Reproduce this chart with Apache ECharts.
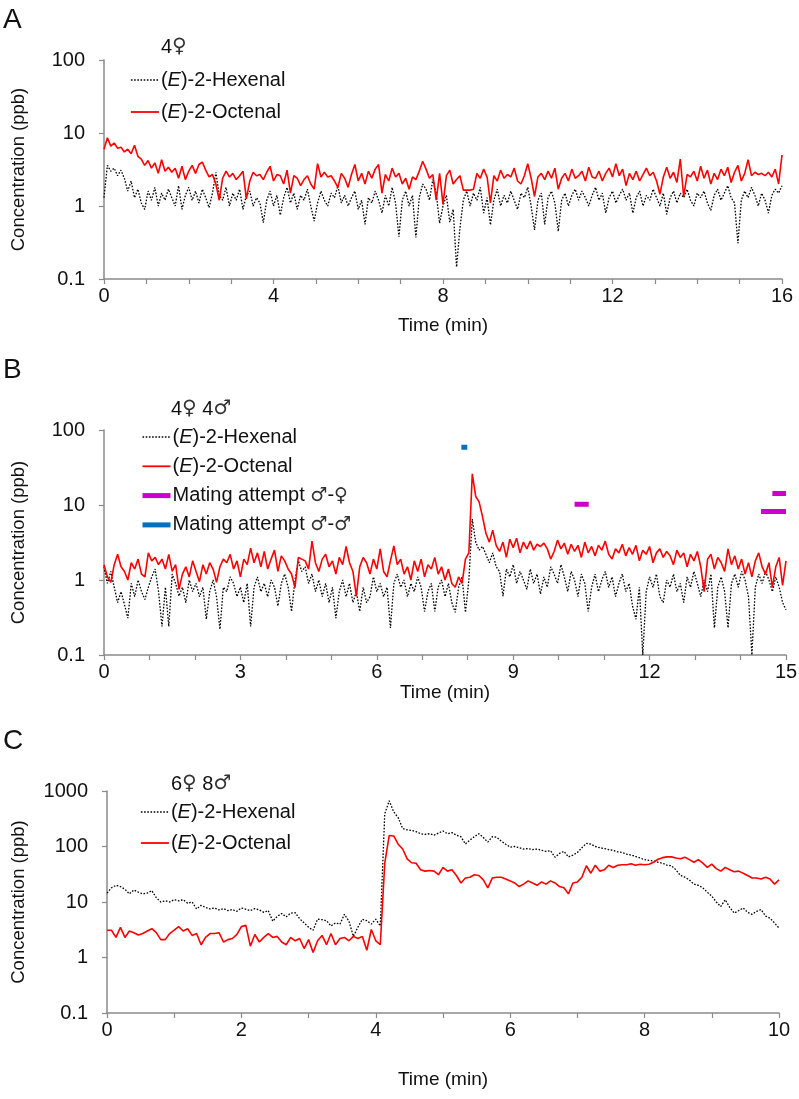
<!DOCTYPE html>
<html><head><meta charset="utf-8">
<script src="https://cdn.jsdelivr.net/npm/echarts@6/dist/echarts.min.js"></script>
<style>html,body{margin:0;padding:0;background:#fff}#c{width:799px;height:1099px}</style>
</head><body><div id="c"></div><script>
const FONT = '"Liberation Sans", Arial, sans-serif';
const FONT_N = '"Liberation Sans Narrow", "Liberation Sans", Arial, sans-serif';
const SYM_FONT = '"DejaVu Sans", sans-serif';

// ---------- Panel A (4 females), sampled every 0.08 min ----------
const stepA = 0.08;
const hexA = [
1.3,3.6,3.0,3.3,2.6,3.1,2.4,1.6,2.2,1.3,
1.7,1.1,0.9,1.6,1.2,1.8,1.0,1.5,1.2,1.7,
1.3,1.0,1.9,0.9,1.4,1.8,1.2,1.6,1.1,1.7,
1.3,0.95,1.5,2.9,1.4,1.2,1.8,1.0,1.5,1.2,
1.7,0.9,1.4,1.6,1.0,1.3,1.1,0.59,1.2,1.6,
1.0,1.4,0.75,1.3,1.8,1.1,1.5,0.9,1.4,1.2,
1.7,1.0,0.62,1.1,1.6,1.2,1.0,1.5,1.3,1.9,
1.1,1.4,1.0,1.3,1.6,0.9,1.2,0.56,1.3,1.1,
1.6,1.2,0.8,1.4,1.0,1.8,1.1,0.38,1.2,1.6,
1.0,1.4,0.37,1.3,2.0,1.7,1.2,2.3,1.5,0.58,
1.0,1.4,0.6,0.9,0.146,0.5,1.2,1.6,1.0,1.5,
1.2,1.8,0.8,1.3,0.55,1.2,1.7,1.0,1.4,1.1,
1.6,1.2,0.9,1.5,1.3,1.8,1.0,0.47,1.2,1.5,
0.56,1.3,1.6,1.1,0.45,1.2,1.5,1.0,1.4,1.7,
1.2,1.6,1.3,1.0,1.4,1.8,1.2,1.5,0.8,1.3,
1.6,1.1,1.4,1.7,1.2,1.5,0.8,1.3,1.6,1.0,
1.4,1.2,1.7,1.3,1.0,1.5,0.77,1.3,1.6,1.1,
1.5,1.3,1.7,1.2,1.0,1.5,1.3,1.6,1.1,0.87,
1.4,1.7,1.2,1.5,1.9,1.3,1.1,0.31,1.2,1.6,
1.3,1.8,1.4,1.0,1.5,1.2,0.8,1.4,1.7,1.5,
1.9];
const octA = [
6.0,8.6,6.6,7.3,6.2,6.4,5.5,6.0,5.2,6.8,
4.8,4.4,3.6,4.2,3.3,3.9,2.8,4.3,3.0,3.4,
2.9,3.3,2.4,3.5,2.3,3.0,3.6,2.8,3.7,4.0,
3.1,2.5,2.7,2.0,1.2,2.4,3.0,2.5,2.8,2.3,
2.6,3.0,1.25,2.2,2.9,2.6,2.7,2.3,2.9,3.5,
2.2,2.7,2.6,2.0,3.1,1.5,2.6,2.4,1.9,2.3,
2.6,2.0,1.7,3.8,2.5,2.9,2.5,2.6,2.2,1.8,
2.8,2.4,1.8,2.7,3.7,2.2,2.8,2.0,3.0,2.4,
3.2,3.7,1.5,2.7,2.2,3.3,2.5,2.8,2.0,2.4,
1.7,2.5,2.3,3.0,4.1,3.2,2.4,2.7,1.2,2.8,
1.05,2.6,3.1,2.0,2.3,2.6,1.65,1.65,1.65,1.7,
2.8,2.4,3.2,2.5,1.1,2.6,2.2,3.1,2.4,2.7,
2.5,3.3,2.2,2.0,2.6,3.8,2.4,1.35,2.5,2.8,
2.3,3.0,2.4,3.3,1.7,2.4,2.8,2.2,3.2,2.4,
2.6,3.0,2.2,3.4,2.5,2.4,3.0,2.2,2.8,3.3,
2.5,3.8,2.6,3.2,1.9,2.8,2.3,3.0,2.2,2.7,
3.3,2.6,2.9,2.2,1.45,2.5,3.4,2.4,2.9,2.1,
4.4,1.35,2.7,2.5,3.0,2.2,3.5,2.4,3.1,2.0,
2.8,2.3,3.2,2.6,3.4,2.1,2.9,3.6,2.2,2.8,
4.3,2.6,2.9,2.7,2.8,2.6,2.9,2.5,3.2,2.0,
5.0];

// ---------- Panel B (4 females, 4 males), sampled every 0.075 min ----------
const stepB = 0.075;
const hexB = [
1.5,0.9,1.3,0.8,0.5,0.7,0.47,0.31,0.9,0.6,
1.0,0.7,0.55,0.8,1.1,1.4,0.7,0.24,0.8,0.24,
1.2,0.9,0.61,0.8,0.5,1.0,0.7,0.9,0.6,0.8,
0.3,0.7,1.0,0.6,0.22,0.8,0.7,1.1,0.9,0.6,
0.8,0.5,0.9,0.24,0.8,1.1,0.7,0.9,0.6,1.0,
0.8,0.45,0.9,1.2,0.8,0.38,1.0,1.8,1.3,1.5,
0.9,1.2,0.7,1.0,0.6,0.9,0.5,0.8,0.31,0.7,
1.0,0.6,0.9,0.5,0.7,0.38,0.8,0.5,0.6,1.1,
0.7,0.9,0.6,0.8,0.23,0.9,1.2,0.8,1.0,0.6,
0.9,0.7,1.1,0.8,0.38,0.7,0.9,0.38,0.8,1.0,
0.6,0.9,0.5,0.37,0.8,1.1,0.37,1.0,6.5,3.2,
2.5,2.8,2.2,1.7,2.3,1.5,1.3,0.61,1.4,1.1,
1.6,0.9,1.3,1.0,0.75,1.4,0.9,1.2,0.65,1.1,
0.8,1.5,1.2,0.9,1.6,1.1,0.7,1.3,1.0,0.6,
1.2,0.9,0.38,0.8,1.2,0.7,1.0,1.3,0.8,1.1,
0.6,0.9,1.2,0.7,0.9,0.45,0.30,0.8,0.1,0.7,
1.1,0.8,1.2,0.6,0.5,1.0,0.8,1.2,0.7,0.9,
0.5,1.1,0.8,1.3,0.9,0.6,1.0,0.7,1.2,0.23,
0.8,1.1,0.7,0.23,0.9,1.2,0.8,1.3,1.0,0.6,
0.1,0.8,1.2,0.9,1.3,1.0,0.7,1.1,0.8,0.5,
0.4];
const octB = [
1.6,1.1,0.93,1.6,2.2,1.5,1.3,1.0,1.7,1.4,
1.9,1.2,1.1,2.3,1.8,2.0,1.6,1.9,1.4,2.2,
1.3,1.6,0.75,1.2,1.5,1.1,1.8,1.3,0.95,1.6,
1.2,1.7,1.4,0.93,1.5,1.9,1.7,2.2,1.4,1.8,
1.1,1.9,1.6,2.65,1.7,2.3,1.5,2.4,1.4,1.9,
2.5,1.3,2.1,1.8,1.4,1.2,0.79,2.0,1.9,1.8,
1.4,3.3,1.7,1.3,1.9,2.2,1.5,1.8,1.2,2.0,
1.6,2.8,1.7,1.3,0.61,1.5,2.0,1.7,1.2,1.9,
1.4,2.6,1.3,1.1,1.8,2.85,1.6,1.9,1.2,1.5,
1.0,1.8,1.3,1.9,1.1,1.6,1.4,2.0,1.2,1.5,
1.0,1.4,0.9,0.8,1.1,0.9,1.9,2.3,26,13,
11,7,4.2,3.2,4.6,2.9,2.4,3.2,2.0,3.5,
2.7,3.6,2.3,3.2,2.6,3.3,2.5,3.0,2.8,3.1,
2.6,1.9,2.4,3.4,2.6,3.1,2.2,3.0,2.4,2.9,
2.0,3.2,2.3,2.8,2.1,2.9,2.5,3.3,2.2,1.9,
2.6,2.3,3.0,2.1,2.7,2.2,2.9,1.8,2.5,2.2,
2.8,1.7,2.3,2.6,2.0,2.4,2.1,1.6,2.5,2.0,
2.3,1.5,2.2,1.8,2.4,1.5,0.7,1.9,2.2,1.4,
2.0,1.7,1.3,2.6,1.6,2.1,1.4,1.9,1.2,1.7,
1.1,1.8,2.3,1.5,1.2,1.7,0.8,1.5,2.0,0.85,
1.8];
// mating attempts: [start min, end min, level ppb]
const mateFemale = [[10.35,10.66,10.2],[14.70,15.0,14.2],[14.45,15.0,8.2]];
const mateMale = [[7.86,7.99,59]];

// ---------- Panel C (6 females, 8 males), sampled every 4 s ----------
const stepC = 1/15;
const hexC = [
14.5,18,20,19,17,14,16.5,15,14,14.5,
16,12,10,10.5,10,11,10.5,11,9.5,10,
7.5,8.7,8,7.5,7.8,7.2,7.6,7.0,7.3,6.8,
7.8,7.4,7.0,7.6,7.2,6.5,7.0,4.5,5.5,6.2,
5.4,6.3,6.4,5.0,4.2,3.5,3.1,4.9,4.8,4.6,
3.7,4.2,4.0,6.0,4.5,2.4,3.5,4.9,4.6,4.0,
4.9,3.7,390,665,420,330,210,200,195,185,
170,165,170,160,175,190,170,178,160,150,
111,130,150,170,145,120,150,147,125,110,
97,100,95,90,92,88,90,85,82,84,
64,75,82,65,70,78,95,114,110,100,
95,92,88,85,80,78,73,70,66,62,
58,56,55,52,50,46,45,38,30,28,
25,21,20,18,15,12.7,10,8.3,11,8,
6.3,7,7.8,6.5,6.0,6.8,7.3,5.6,5.1,4.2,
3.4];
const octC = [
3.1,3.1,2.3,3.5,2.3,3.0,2.8,2.55,2.7,3.0,
3.3,2.8,2.1,2.1,2.7,3.1,3.6,3.0,3.3,2.5,
2.7,1.7,2.3,2.7,2.7,2.8,1.9,2.1,2.2,2.6,
3.6,3.8,1.6,2.6,1.9,2.3,2.7,2.3,2.4,1.9,
1.7,2.3,2.0,2.2,1.45,2.1,1.23,2.0,2.5,1.7,
2.7,1.7,2.2,2.3,2.0,2.4,2.2,2.4,1.35,3.2,
2.0,1.7,50,158,155,110,90,60,51,50,
38,36,37,36,31,42,36,38,30,22,
27,28,31,30,25,18,27,28,28,26,
24,22,19,21,24,22,20,23,21,24,
22,19,18,14,22,23,28,45,33,46,
36,38,46,42,46,47,47,49,46,48,
47,48,52,59,63,65,65,62,60,64,
58,52,58,50,42,48,40,36,42,38,
35,36,33,30,27,27,26,28,26,21,
25];

const panels = [
  {letter:'A', count:'4{s|\u2640}', xMax:16, xInt:4, hex:hexA, oct:octA, step:stepA, yMin:0.1, yMax:100,
   grid:{left:104, top:60, width:678, height:219}, nameGapX:37, nameGapY:76, font:FONT,
   legendTop:70, legendLeft:130, legendGap:12, countLeft:161, countTop:35, letterTop:6},
  {letter:'B', count:'4{s|\u2640} 4{s|\u2642}', xMax:15, xInt:3, hex:hexB, oct:octB, step:stepB, yMin:0.1, yMax:100,
   grid:{left:104, top:430, width:682, height:225}, nameGapX:24, nameGapY:76, font:FONT,
   legendTop:427, legendLeft:140, legendGap:9.3, countLeft:171, countTop:397, letterTop:356},
  {letter:'C', count:'6{s|\u2640} 8{s|\u2642}', xMax:10, xInt:2, hex:hexC, oct:octC, step:stepC, yMin:0.1, yMax:1000,
   grid:{left:107, top:791, width:672, height:222}, nameGapX:57, nameGapY:79, font:FONT_N,
   legendTop:802, legendLeft:140, legendGap:11, countLeft:171, countTop:772, letterTop:727}
];

const AXIS_COLOR = '#8a8a8a';
const labelText = {};
const grids = [], xAxes = [], yAxes = [], series = [], legends = [], titles = [];

function toPairs(vals, step){ return vals.map((v,i)=>[+(i*step).toFixed(4), v]); }
function barPairs(list){
  const out = [];
  list.forEach((b,i)=>{ if(i>0) out.push([b[0],'-']); out.push([b[0],b[2]]); out.push([b[1],b[2]]); });
  return out;
}

panels.forEach((p, k) => {
  grids.push(Object.assign({outerBoundsMode:'none', containLabel:false}, p.grid));
  xAxes.push({
    type:'value', gridIndex:k, min:0, max:p.xMax, interval:p.xInt,
    name:'Time (min)', nameLocation:'middle', nameGap:p.nameGapX,
    nameTextStyle:{fontFamily:p.font, fontSize:19, color:'#111'},
    axisLine:{show:true, onZero:false, lineStyle:{color:AXIS_COLOR, width:1.5}},
    axisTick:{show:true, length:5, lineStyle:{color:AXIS_COLOR, width:1.2}},
    minorTick:{show:true, splitNumber:p.xInt, length:5, lineStyle:{color:AXIS_COLOR, width:1.2}},
    axisLabel:{fontFamily:p.font, fontSize:20, color:'#111', margin:7},
    splitLine:{show:false}
  });
  yAxes.push({
    type:'log', logBase:10, gridIndex:k, min:p.yMin, max:p.yMax,
    name:'Concentration (ppb)', nameLocation:'middle', nameGap:p.nameGapY, nameRotate:90,
    nameTextStyle:{fontFamily:FONT, fontSize:18.5, color:'#111'},
    axisLine:{show:true, onZero:false, lineStyle:{color:AXIS_COLOR, width:1.5}},
    axisTick:{show:true, length:5, lineStyle:{color:AXIS_COLOR, width:1.2}},
    axisLabel:{fontFamily:FONT, fontSize:20, color:'#111', margin:19,
      formatter: v => v < 1 ? (+v).toFixed(1) : String(Math.round(v))},
    splitLine:{show:false}
  });
  const hexName = p.letter + 'hex', octName = p.letter + 'oct';
  labelText[hexName] = '({i|E})-2-Hexenal';
  labelText[octName] = '({i|E})-2-Octenal';
  series.push({
    name:hexName, type:'line', xAxisIndex:k, yAxisIndex:k, data:toPairs(p.hex, p.step),
    symbol:'none', showSymbol:false, z:2,
    lineStyle:{color:'#000', width:1.3, type:[1.6,1.6]}, itemStyle:{color:'#000'}
  });
  series.push({
    name:octName, type:'line', xAxisIndex:k, yAxisIndex:k, data:toPairs(p.oct, p.step),
    symbol:'none', showSymbol:false, z:3,
    lineStyle:{color:'#ff0000', width:1.6}, itemStyle:{color:'#ff0000'}
  });
  const legendData = [
    {name:hexName, lineStyle:{width:1.3, type:[1.6,1.6], color:'#000'}},
    {name:octName, lineStyle:{width:1.8, color:'#ff0000'}}
  ];
  if (p.letter === 'B') {
    labelText['Bmf'] = 'Mating attempt {s|\u2642}-{s|\u2640}';
    labelText['Bmm'] = 'Mating attempt {s|\u2642}-{s|\u2642}';
    series.push({
      name:'Bmf', type:'line', xAxisIndex:k, yAxisIndex:k, data:barPairs(mateFemale),
      symbol:'none', showSymbol:false, connectNulls:false, z:4,
      lineStyle:{color:'#cc00cc', width:5, cap:'butt'}, itemStyle:{color:'#cc00cc'}
    });
    series.push({
      name:'Bmm', type:'line', xAxisIndex:k, yAxisIndex:k, data:barPairs(mateMale),
      symbol:'none', showSymbol:false, z:4,
      lineStyle:{color:'#0070c0', width:5, cap:'butt'}, itemStyle:{color:'#0070c0'}
    });
    legendData.push({name:'Bmf', lineStyle:{width:5, color:'#cc00cc', cap:'butt'}},
                    {name:'Bmm', lineStyle:{width:5, color:'#0070c0', cap:'butt'}});
  }
  legends.push({
    orient:'vertical', left:p.legendLeft, top:p.legendTop, itemGap:p.legendGap,
    itemWidth:28, itemHeight:14, padding:0, selectedMode:false,
    itemStyle:{opacity:0},
    data:legendData,
    formatter: n => labelText[n],
    textStyle:{fontFamily:FONT, fontSize:20, color:'#111', lineHeight:20, padding:[0,0,0,-3],
      rich:{
        i:{fontFamily:FONT, fontSize:20, fontStyle:'italic', color:'#111', lineHeight:20},
        s:{fontFamily:SYM_FONT, fontSize:19, color:'#333', lineHeight:20}
      }}
  });
  titles.push({text:p.letter, left:3, top:p.letterTop, padding:0,
    textStyle:{fontFamily:FONT, fontSize:28, fontWeight:'normal', color:'#111'}});
  titles.push({text:p.count, left:p.countLeft, top:p.countTop, padding:0,
    textStyle:{fontFamily:FONT, fontSize:20, fontWeight:'normal', color:'#111', lineHeight:24,
      rich:{s:{fontFamily:SYM_FONT, fontSize:20, color:'#333', lineHeight:24}}}});
});

const chart = echarts.init(document.getElementById('c'), null, {renderer:'canvas'});
chart.setOption({
  animation:false, backgroundColor:'#fff',
  title:titles, grid:grids, xAxis:xAxes, yAxis:yAxes, legend:legends, series:series
});
</script></body></html>
